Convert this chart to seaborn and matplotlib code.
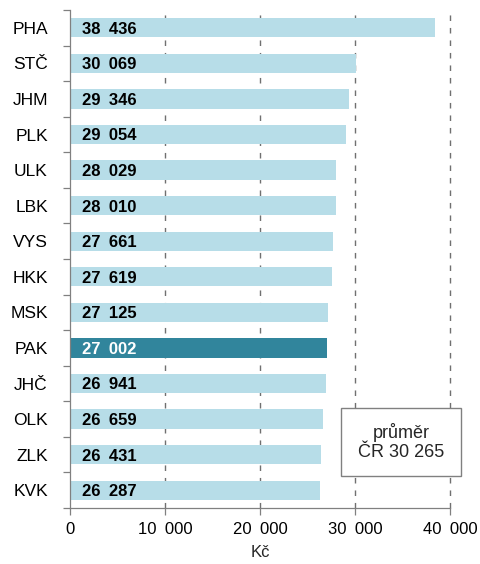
import matplotlib
matplotlib.use("Agg")
import matplotlib.pyplot as plt
import seaborn as sns
import pandas as pd
import numpy as np
from matplotlib.ticker import FixedLocator, FuncFormatter
from matplotlib.patches import Rectangle

regions = ["PHA", "STČ", "JHM", "PLK", "ULK", "LBK", "VYS", "HKK", "MSK", "PAK", "JHČ", "OLK", "ZLK", "KVK"]
values = [38436, 30069, 29346, 29054, 28029, 28010, 27661, 27619, 27125, 27002, 26941, 26659, 26431, 26287]
highlight = "PAK"
average_text = "průměr\nČR 30 265"
x_ticks = [0, 10000, 20000, 30000, 40000]
x_label = "Kč"

sns.set_theme(style="white")
plt.rcParams['font.family'] = ['Liberation Sans', 'DejaVu Sans']

light = "#b7dde8"
dark = "#31859c"
df = pd.DataFrame({"region": regions, "value": values})
palette = {r: (dark if r == highlight else light) for r in regions}

fig = plt.figure(figsize=(4.8, 5.64), dpi=100)
ax = fig.add_axes([70/480, 1-508/564, 380/480, 498/564])

sns.barplot(data=df, y="region", x="value", hue="region", palette=palette,
            order=regions, width=0.54, legend=False, ax=ax, saturation=1,
            edgecolor="none")

ax.set_xlim(0, 40000)
ax.set_ylim(len(regions)-0.5, -0.5)

for xv in x_ticks[1:]:
    ax.axvline(xv, color="#707070", linestyle=(0, (4, 5)), linewidth=1.0, zorder=0, clip_on=False)

def fmt(v):
    return f"{int(v):,}".replace(",", "\u2002")

for i, (r, v) in enumerate(zip(regions, values)):
    ax.annotate(fmt(v), xy=(0, i), xytext=(9, -1), textcoords="offset points",
                va="center", ha="left", fontsize=12, fontweight="bold",
                color="white" if r == highlight else "black")

ax.xaxis.set_major_locator(FixedLocator(x_ticks))
ax.xaxis.set_major_formatter(FuncFormatter(lambda v, p: fmt(v)))
ax.tick_params(axis="x", labelsize=12, length=5, width=0.9, color="#808080",
               bottom=True, direction="out", pad=5, labelcolor="black")
ax.set_xlabel(x_label, fontsize=12, labelpad=6)
ax.set_ylabel("")

ax.set_yticks(range(len(regions)))
ax.set_yticklabels(regions)
ax.tick_params(axis="y", which="major", length=0, labelsize=12.5, pad=16, labelcolor="black")
ax.set_yticks(np.arange(-0.5, len(regions), 1.0), minor=True)
ax.tick_params(axis="y", which="minor", length=5, width=0.9, color="#808080", left=True, direction="out")

for s in ["top", "right"]:
    ax.spines[s].set_visible(False)
for s in ["left", "bottom"]:
    ax.spines[s].set_color("#808080")
    ax.spines[s].set_linewidth(0.9)

bx0, bx1, by0, by1 = 341/480, 461/480, 1-476/564, 1-408/564
fig.patches.append(Rectangle((bx0, by0), bx1-bx0, by1-by0, transform=fig.transFigure,
                             facecolor="white", edgecolor="#808080", linewidth=1.0, zorder=5))
fig.text((bx0+bx1)/2, (by0+by1)/2, average_text, ha="center", va="center",
         fontsize=13, linespacing=1.1, zorder=6)

fig.savefig("out.png", dpi=100)
